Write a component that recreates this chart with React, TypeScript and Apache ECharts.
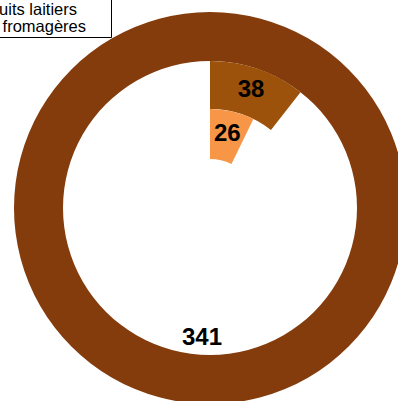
import React, { useEffect, useRef } from "react";
import * as echarts from "echarts";

// Legend entries (clipped at the left edge in the reference)
const legendLines = ["Produits laitiers", "Spécialités fromagères"];

// Ring values: outer ring (single full slice), middle and inner rings (value + blank remainder)
const outerValues = [341];
const middleValues = [38, 322];
const innerValues = [26, 334];

const outerColor = "#843c0c";
const middleColor = "#9c520a";
const innerColor = "#f79646";

const FONT = "'Liberation Sans', Arial, sans-serif";

export default function App() {
  const ref = useRef<HTMLDivElement>(null);

  useEffect(() => {
    if (!ref.current) return;
    const chart = echarts.init(ref.current, null, { renderer: "svg" });

    const labelStyle = {
      show: true,
      position: "inside",
      fontFamily: FONT,
      fontSize: 24,
      fontWeight: "bold",
      color: "#000",
      formatter: "{c}",
    };

    const ringData = (values: number[], color: string) =>
      values.map((v, i) =>
        i === 0
          ? { value: v, itemStyle: { color } }
          : {
              value: v,
              itemStyle: { color: "rgba(0,0,0,0)" },
              label: { show: false },
            }
      );

    chart.setOption({
      animation: false,
      graphic: [
        {
          type: "rect",
          shape: { x: -120, y: -10, width: 231.5, height: 47.5 },
          style: { fill: "#fff", stroke: "#000", lineWidth: 1 },
          z: 10,
        },
        {
          type: "text",
          x: 77,
          y: 0,
          z: 11,
          style: {
            text: legendLines[0],
            fontFamily: FONT,
            fontSize: 16.5,
            lineHeight: 18,
            fill: "#000",
            align: "right",
            verticalAlign: "top",
          },
        },
        {
          type: "text",
          x: 86,
          y: 16.5,
          z: 11,
          style: {
            text: legendLines[1],
            fontFamily: FONT,
            fontSize: 16.5,
            lineHeight: 18,
            fill: "#000",
            align: "right",
            verticalAlign: "top",
          },
        },
      ],
      series: [
        {
          type: "pie",
          center: [210, 208],
          radius: [147, 196],
          startAngle: 90,
          silent: true,
          data: ringData(outerValues, outerColor),
          label: { ...labelStyle, offset: [-8, -46] },
          labelLine: { show: false },
          emphasis: { disabled: true },
        },
        {
          type: "pie",
          center: [210, 208],
          radius: [99, 147],
          startAngle: 90,
          silent: true,
          data: ringData(middleValues, middleColor),
          label: labelStyle,
          labelLine: { show: false },
          emphasis: { disabled: true },
        },
        {
          type: "pie",
          center: [210, 208],
          radius: [49, 99],
          startAngle: 90,
          silent: true,
          data: ringData(innerValues, innerColor),
          label: labelStyle,
          labelLine: { show: false },
          emphasis: { disabled: true },
        },
      ],
    });

    return () => chart.dispose();
  }, []);

  return (
    <div
      ref={ref}
      style={{ position: "fixed", left: 0, top: 0, width: 398, height: 401, background: "#fff" }}
    />
  );
}
